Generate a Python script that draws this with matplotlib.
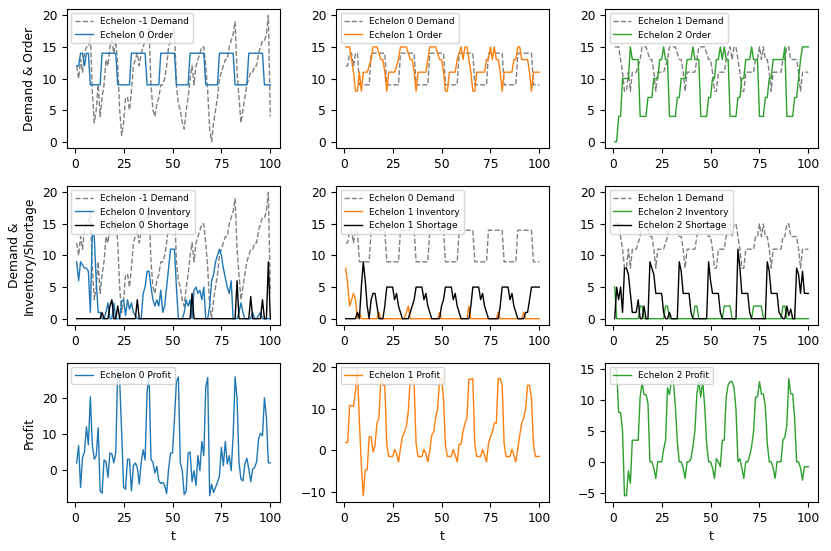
import numpy as np
import matplotlib

matplotlib.use("Agg")
import matplotlib.pyplot as plt

t = np.arange(1, 101)

demand_m1 = [
    12, 10, 13, 11, 14, 15, 15, 17, 8, 3,
    5, 9, 4, 7, 9, 13, 12, 15, 16, 14,
    16, 12, 5, 1, 3, 7, 7, 5, 8, 12,
    13, 14, 12, 14, 15, 16, 16, 18, 9, 5,
    4, 6, 7, 9, 9, 10, 12, 15, 16, 17,
    18, 9, 6, 5, 3, 2, 5, 7, 10, 12,
    9, 12, 13, 14, 15, 15, 12, 8, 2, 0,
    3, 5, 7, 10, 11, 12, 13, 13, 15, 16,
    17, 19, 11, 7, 3, 5, 7, 9, 10, 11,
    11, 12, 12, 14, 15, 16, 16, 17, 20, 4,
]

order_0 = [
    12, 12, 14, 14, 12, 14, 14, 9, 9, 9,
    9, 9, 9, 14, 14, 14, 14, 14, 14, 14,
    14, 9, 9, 9, 9, 9, 9, 9, 14, 14,
    14, 14, 14, 14, 14, 14, 9, 9, 9, 9,
    9, 9, 9, 14, 14, 14, 14, 14, 14, 14,
    14, 9, 9, 9, 9, 9, 9, 9, 14, 14,
    14, 14, 14, 14, 14, 14, 9, 9, 9, 9,
    9, 9, 9, 14, 14, 14, 14, 14, 14, 14,
    14, 9, 9, 9, 9, 9, 9, 9, 14, 14,
    14, 14, 14, 14, 14, 14, 9, 9, 9, 9,
]

order_1 = [
    15, 15, 15, 13, 11, 8, 8, 11, 8, 11,
    11, 11, 12, 13, 15, 15, 15, 14, 13, 13,
    11, 8, 11, 11, 11, 11, 12, 13, 15, 15,
    15, 15, 14, 13, 13, 11, 8, 11, 11, 11,
    11, 11, 13, 15, 15, 15, 15, 14, 13, 13,
    11, 8, 8, 11, 11, 11, 11, 13, 14, 15,
    13, 15, 15, 13, 11, 8, 8, 11, 11, 11,
    11, 11, 13, 13, 15, 13, 15, 13, 13, 11,
    8, 11, 11, 11, 11, 11, 13, 13, 15, 15,
    13, 13, 13, 13, 11, 8, 11, 11, 11, 11,
]

order_2 = [
    0, 0, 4, 4, 10, 10, 10, 10, 15, 13,
    13, 13, 13, 4, 4, 4, 4, 7, 7, 7,
    10, 10, 10, 13, 13, 15, 13, 13, 4, 4,
    4, 4, 7, 7, 10, 10, 10, 13, 13, 13,
    15, 13, 13, 13, 4, 4, 4, 4, 7, 7,
    10, 10, 13, 13, 15, 13, 15, 13, 13, 4,
    4, 4, 4, 7, 7, 10, 10, 13, 13, 13,
    15, 13, 13, 13, 4, 4, 4, 7, 7, 10,
    10, 13, 13, 13, 13, 13, 13, 15, 4, 4,
    4, 4, 7, 7, 10, 13, 15, 15, 15, 15,
]

inventory_0 = [
    9, 6, 9, 8.5, 8, 8, 7.5, 1, 13.5, 13,
    6, 1, 1, 0, 0, 1, 2.5, 0, 0, 2.5,
    0, 0, 0, 2.8, 3, 0.5, 3, 1.5, 2.5, 1,
    0.5, 0, 0, 0, 4, 5, 7.5, 7.5, 5, 3,
    2, 3, 2, 4.5, 1, 2, 5, 8, 11, 11,
    11, 5, 0, 0, 0, 1, 3, 2, 3, 0,
    4.5, 5, 4, 4.5, 3, 5, 0, 0, 2, 6,
    7, 9, 10, 11, 10, 8, 6.5, 5, 4, 6,
    0, 0, 0, 1, 2.5, 1, 0, 0, 0, 0,
    1, 0, 0, 0.5, 1, 0, 0, 0, 0, 0,
]

shortage_0 = [
    0, 0, 0, 0, 0, 0, 0, 0, 0, 0,
    0, 0, 0, 1, 0, 0, 0, 2, 3, 0,
    0, 2, 0, 0, 0, 0, 0, 0, 0, 0,
    0, 3, 0, 0, 0, 0, 0, 0, 0, 0,
    0, 0, 0, 0, 0, 0, 0, 0, 0, 0,
    0, 0, 0, 0, 0, 0, 0, 0, 0, 4,
    0, 0, 0, 0, 0, 0, 0, 0, 0, 0,
    0, 0, 0, 0, 0, 0, 0, 0, 0, 0,
    0, 0, 6, 0, 0, 0, 0, 0, 0, 3.5,
    0, 0, 0, 0, 0, 3, 0, 0, 9, 0,
]

inventory_1 = [
    8, 5.5, 2, 3, 4, 3, 0, 1, 0, 0,
    0, 0, 0, 0, 0, 0, 0, 1, 0, 0,
    0, 0, 0, 0, 0, 0, 0, 0, 0, 0,
    0, 1, 2, 0, 0, 0, 0, 0, 0, 0,
    0, 0, 0, 0, 0, 0, 0, 0, 1, 0,
    0, 0, 0, 0, 0, 0, 0, 0, 0, 0,
    0, 0, 0, 2, 0, 0, 0, 0, 0, 0,
    0, 0, 0, 0, 0, 0, 0, 0, 1, 0,
    0, 0, 0, 0, 0, 0, 0, 0, 0, 0,
    0, 1, 0, 0, 0, 0, 0, 0, 0, 0,
]

shortage_1 = [
    0, 0, 0, 0, 0, 0, 1, 0, 5, 9,
    6, 2, 0, 3, 4, 4, 2, 0, 0, 0,
    2, 5, 5, 5, 5, 3, 4, 2, 1, 0,
    0, 0, 0, 1, 2, 3, 5, 5, 5, 5,
    3, 4, 2, 1, 0, 0, 0, 0, 0, 2,
    3, 5, 5, 5, 5, 3, 4, 2, 1, 0,
    0, 0, 0, 0, 2, 5, 5, 5, 5, 3,
    4, 2, 1, 0, 0, 0, 0, 0, 0, 2,
    5, 5, 5, 5, 3, 4, 2, 1, 0, 0,
    0, 0, 1, 1, 3, 5, 5, 5, 5, 5,
]

inventory_2 = [
    5, 0, 0, 0, 0, 0, 0, 0, 0, 0,
    0, 0, 0, 2, 2, 0, 0, 0, 0, 0,
    0, 0, 0, 0, 0, 0, 2, 2, 0, 0,
    0, 0, 0, 0, 0, 0, 0, 0, 0, 0,
    0, 2, 2, 0, 0, 0, 0, 0, 0, 0,
    0, 0, 0, 0, 0, 0, 2, 2, 2, 2,
    0, 0, 0, 0, 0, 0, 0, 0, 0, 0,
    0, 2, 2, 2, 2, 2, 0, 0, 0, 0,
    0, 0, 0, 0, 0, 0, 2, 2, 0, 0,
    0, 0, 0, 0, 0, 0, 0, 0, 0, 0,
]

shortage_2 = [
    0, 5, 3, 5, 1, 8, 8, 7, 4, 1,
    1, 1, 3, 0, 0, 2, 0, 0, 9, 8,
    7, 4, 4, 4, 4, 1, 0, 0, 1, 0,
    0, 0, 0, 9, 7.5, 4, 4, 4, 4, 1,
    0, 0, 0, 0, 0, 0, 0, 0, 9, 6,
    4, 4, 4, 4, 1, 0, 0, 0, 0, 0,
    0, 0, 0, 11, 8, 4, 4, 4, 4, 1,
    0, 0, 0, 0, 0, 0, 0, 0, 9, 7.5,
    4, 4, 4, 4, 1, 0.5, 0, 0, 2, 0.5,
    1.5, 0, 0, 8, 7, 4, 7.5, 4, 4, 4,
]

profit_0 = [
    2, 6.8, -4.8, 3.5, 5, 12, 7, 20.3, 7, 3,
    4, 11.7, -5.8, -6.4, 2.8, 2.3, -2, 4.7, 4.5, 2,
    5, 27.9, 24.5, 10.5, -4.8, -5.3, 3, 3, -5.8, 1.2,
    2, 0.7, -3.9, 2.1, 5.6, 2.8, 21.7, 26.5, 3, 2.1,
    -0.8, 1, -3, -3.7, -3.4, -4.3, -6.5, 0.3, 4.7, 4.7,
    14.2, 24.5, 25.8, 2.1, -0.2, -6.8, -5.8, 4.7, 5, -3.2,
    -0.2, -4.3, 4, -0.2, 7.9, 4, 23, 25.6, -7.1, -3.9,
    -6.2, -4.8, -3.4, -1.6, 6.3, 1.2, 7.9, 1.7, 4, -0.2,
    9.5, 25.8, 19.8, 2.1, -2.5, -3, 1.7, 3.3, 0.3, -3.2,
    0.3, 0.7, 2.3, 8.6, 10.2, 9.5, 20, 14.7, 2, 2,
]

profit_1 = [
    1.8, 1.9, 10.7, 10.7, 10.5, 14, 19.4, 6.9, -3.6, -10.9,
    -4.7, -4.7, 3.2, 3.2, -0.4, 1.2, 6.5, 7.7, 17, 15.6,
    15.5, 1.4, -1.5, -1.5, -1.5, 0.2, -0.8, -2.8, 0.4, 3.2,
    4.4, 5.6, 9.3, 17, 16.7, 15.7, 1.6, -1.5, -1.5, -1.5,
    0.2, -0.8, -2.8, 0, 3.6, 4.4, 7.7, 10, 16.7, 17.2,
    12.5, 1.2, -1.5, -1.5, -1.5, 0.2, -1.2, -2.8, 1.4, 1.4,
    4.4, 6.5, 7.7, 17, 17, 17.2, 1.4, -1.5, -1.5, -1.5,
    0.2, -1.2, -2.8, 1.6, 3.2, 4.4, 6.5, 6.5, 17.2, 17.2,
    15.6, 1.6, -1.5, -1.5, -1.5, 0.2, -1.2, -2.8, 0.4, 3.6,
    6.5, 7.7, 10, 15.6, 15.5, 12.5, 1.4, -1.5, -1.5, -1.5,
]

profit_2 = [
    15, 15, 8, 8, 5, -5.5, -5.5, -1.5, -3.5, 3.5,
    3.5, 3.5, 3.5, 10.5, 12.8, 10.9, 10.9, 9.5, 0, 0,
    -1, -2.7, 0, 0, 0, 2, 3.5, 12, 10.9, 13.3,
    13, 9, 3.3, 0, 0, -1, -2.7, 0, 0, 0.5,
    2.5, 5, 11, 13, 10.5, 13, 9, 3, 0, 0,
    -1, -2.7, 0.5, 0, -0.8, 3.5, 3.5, 10.5, 12.5, 13,
    13, 12, 8.5, 0, 0.5, -1, -2.7, 0, 0, 1,
    2.5, 5, 10.5, 10.5, 13, 11, 11, 9, 3, 0,
    0, -1, -2.7, 0, 0, 0, 3.5, 4, 6, 13.5,
    11, 11, 7, 0, 0, -1, -3, -0.8, -0.8, -0.8,
]

orders = [order_0, order_1, order_2]
demands = [demand_m1, order_0, order_1]
inventories = [inventory_0, inventory_1, inventory_2]
shortages = [shortage_0, shortage_1, shortage_2]
profits = [profit_0, profit_1, profit_2]
colors = ["C0", "C1", "C2"]

plt.rcParams["font.size"] = 8.8
LW = 1.0

fig, axes = plt.subplots(3, 3, figsize=(8.31, 5.51), dpi=100)
fig.subplots_adjust(left=0.0806, right=0.9844, bottom=0.0889, top=0.9837, wspace=0.263, hspace=0.273)

for k in range(3):
    ax = axes[0, k]
    ax.plot(t, demands[k], "--", color="grey", lw=LW, label=f"Echelon {k - 1} Demand")
    ax.plot(t, orders[k], color=colors[k], lw=LW, label=f"Echelon {k} Order")
    ax.set_ylim(-1, 21)

    ax = axes[1, k]
    ax.plot(t, demands[k], "--", color="grey", lw=LW, label=f"Echelon {k - 1} Demand")
    ax.plot(t, inventories[k], color=colors[k], lw=LW, label=f"Echelon {k} Inventory")
    ax.plot(t, shortages[k], color="black", lw=LW, label=f"Echelon {k} Shortage")
    ax.set_ylim(-1, 21)

    ax = axes[2, k]
    ax.plot(t, profits[k], color=colors[k], lw=LW, label=f"Echelon {k} Profit")
    ax.set_xlabel("t")

for ax in axes.flat:
    ax.set_xticks([0, 25, 50, 75, 100])
    ax.legend(loc="upper left", fontsize=6.5)

axes[0, 0].set_ylabel("Demand & Order")
axes[1, 0].set_ylabel("Demand &\nInventory/Shortage")
axes[2, 0].set_ylabel("Profit")

fig.savefig("out.png", dpi=100)
